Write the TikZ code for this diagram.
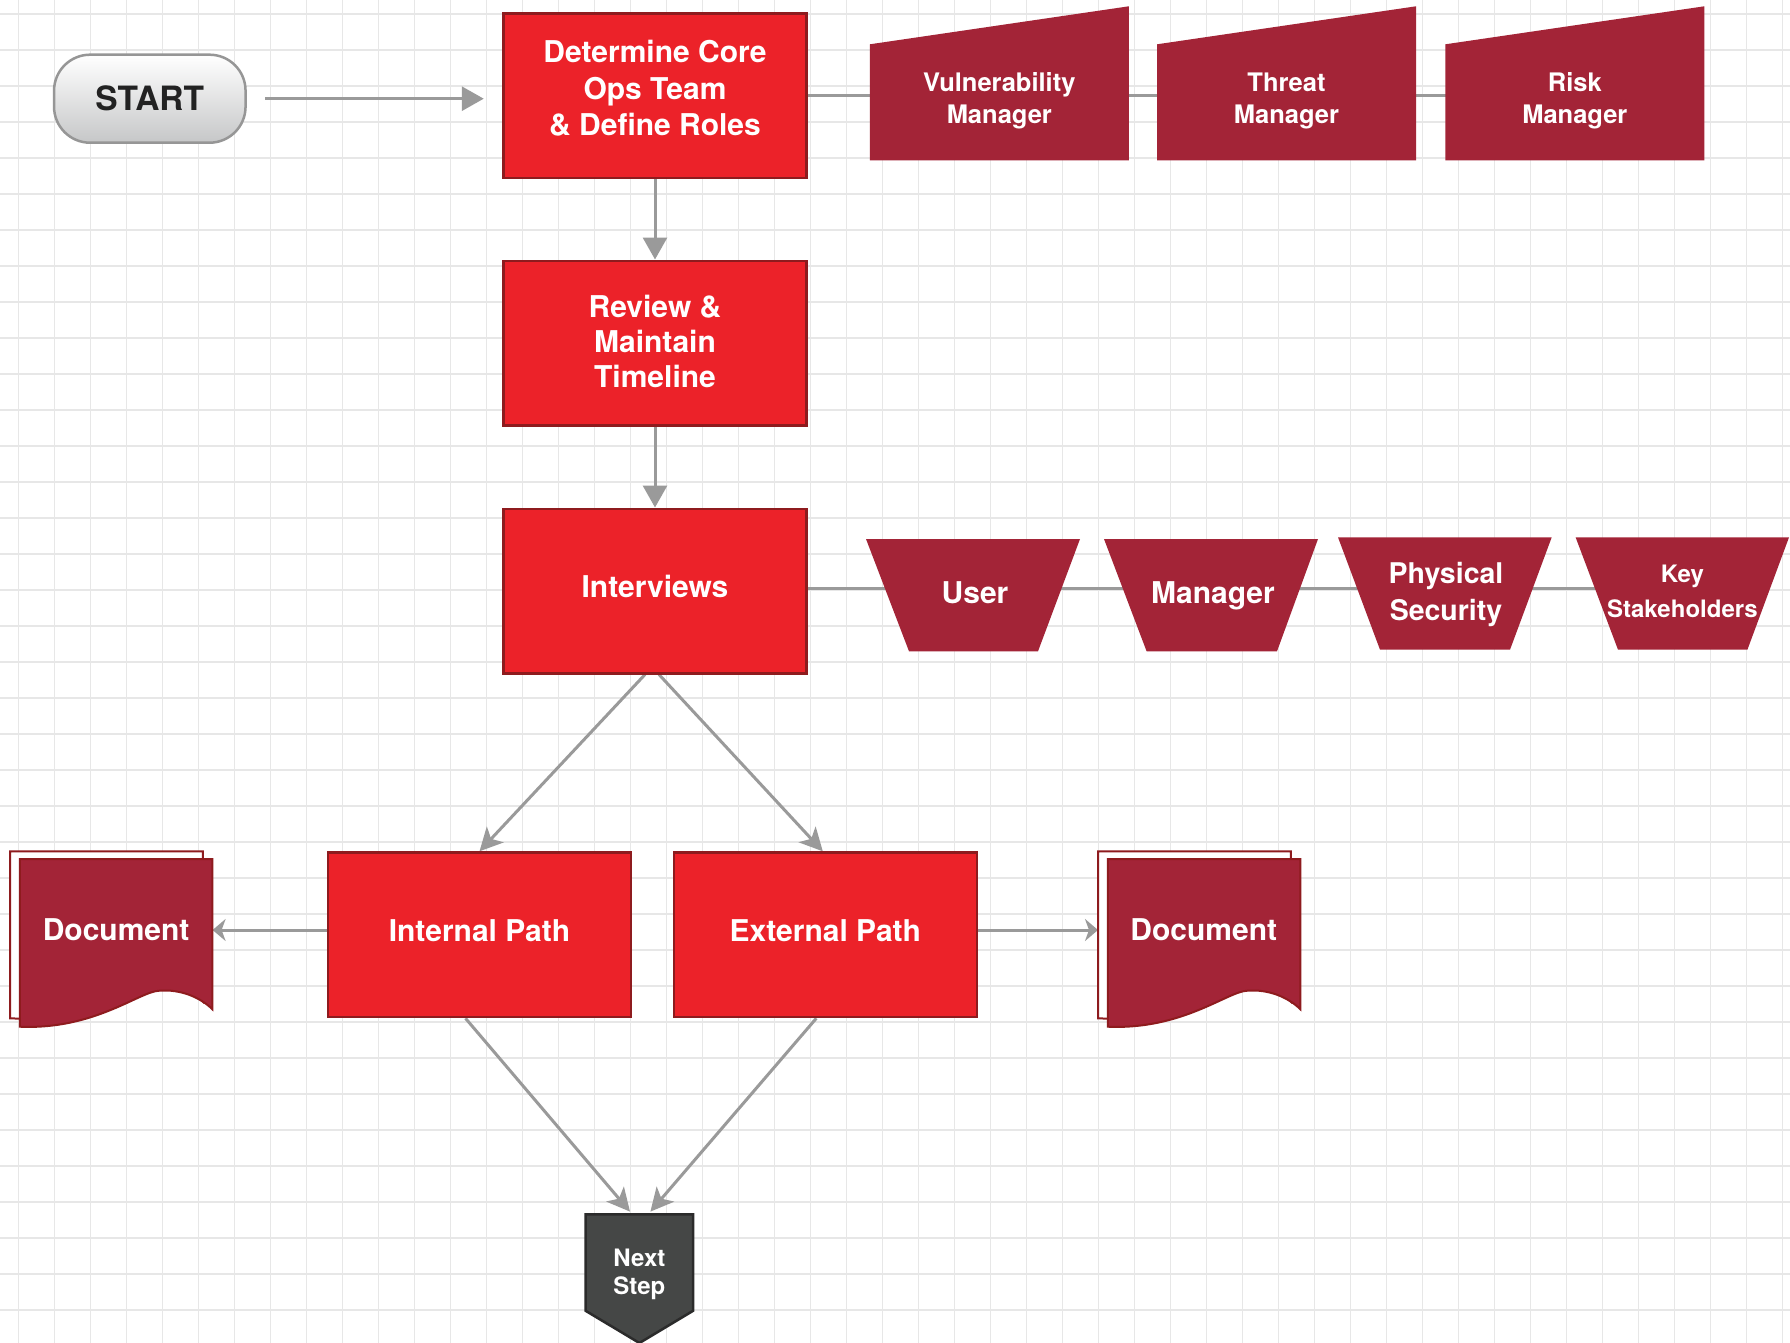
\documentclass[tikz,border=0pt]{standalone}
\usepackage{fontspec}
\setmainfont{TeX Gyre Heros}
\usetikzlibrary{arrows.meta,calc}
\definecolor{boxred}{RGB}{236,34,41}
\definecolor{boxline}{RGB}{142,27,30}
\definecolor{wine}{RGB}{163,36,55}
\definecolor{connc}{RGB}{154,154,154}
\definecolor{gridc}{RGB}{231,231,231}
\definecolor{slate}{RGB}{69,71,70}
\definecolor{slateline}{RGB}{43,43,43}
\definecolor{pillline}{RGB}{150,150,150}
\definecolor{pillbot}{RGB}{198,199,200}
\definecolor{pilltext}{RGB}{34,34,34}
\pgfdeclarelayer{gridlayer}
\pgfdeclarelayer{bg}
\pgfsetlayers{gridlayer,bg,main}
\begin{document}
\begin{tikzpicture}[x=1pt,y=-1pt,
  redbox/.style={draw=boxline, line width=2.5pt, fill=boxred, minimum width=303pt, minimum height=164.5pt, inner sep=0pt},
  wtext/.style={text=white, align=center, inner sep=0pt, text depth=0pt, font=\bfseries\fontsize{30}{36.5}\selectfont},
  smalltext/.style={wtext, font=\bfseries\fontsize{25.5}{31.7}\selectfont},
  wineshape/.style={fill=wine},
  docpage/.style={fill=wine, draw=boxline, line width=2pt},
  docback/.style={fill=white, draw=boxline, line width=2pt},
  cline/.style={draw=connc, line width=3pt},
  tri/.style={cline, -{Triangle[length=22pt,width=24pt]}},
  stl/.style={cline, -{Stealth[length=23pt,width=23pt,inset=6pt]}},
  stlsmall/.style={cline, -{Stealth[length=13pt,width=22pt,inset=4pt]}},
  gridline/.style={draw=gridc, line width=1.8pt}
]
\useasboundingbox (0,0) rectangle (1790,1343);
\begin{pgfonlayer}{gridlayer}
  \fill[white] (0,0) rectangle (1790,1343);
  \foreach \i in {0,...,49} \draw[gridline] (18.4+36*\i,0) -- (18.4+36*\i,1343);
  \foreach \j in {0,...,36} \draw[gridline] (0,14+36*\j) -- (1790,14+36*\j);
\end{pgfonlayer}

% START pill
\node[draw=pillline, line width=2.5pt, rounded corners=36pt, minimum width=191.5pt, minimum height=88pt,
      top color=white, bottom color=pillbot, text=pilltext, inner sep=0pt,
      font=\bfseries\fontsize{33.5}{36}\selectfont] (start) at (149.8,98.7) {START};

% main red boxes
\node[redbox] (det) at (655,95.8) {};
\node[wtext] (detT) at (655,88.3) {Determine Core\\Ops Team\\\& Define Roles};
\node[redbox] (rev) at (655,343) {};
\node[wtext, font=\bfseries\fontsize{30}{35.3}\selectfont] (revT) at (655,341.3) {Review \&\\Maintain\\Timeline};
\node[redbox] (intv) at (655,591) {};
\node[wtext] (intvT) at (655,586) {Interviews};
\node[redbox] (inpath) at (479.5,934.8) {};
\node[wtext] (inT) at (479.5,931) {Internal Path};
\node[redbox] (expath) at (825.3,934.8) {};
\node[wtext] (exT) at (825.3,931) {External Path};

% role shapes (manual input)
\fill[wineshape] (869.8,44.3) -- (1128.8,6.3) -- (1128.8,160.3) -- (869.8,160.3) -- cycle;
\fill[wineshape] (1157,44.3) -- (1416,6.3) -- (1416,160.3) -- (1157,160.3) -- cycle;
\fill[wineshape] (1445.3,44.3) -- (1704.3,6.3) -- (1704.3,160.3) -- (1445.3,160.3) -- cycle;
\node[smalltext] (vuln) at (999.3,98.2) {Vulnerability\\Manager};
\node[smalltext] (threat) at (1286.5,98.2) {Threat\\Manager};
\node[smalltext] (risk) at (1574.8,98.2) {Risk\\Manager};

% interview trapezoids
\fill[wineshape] (866,539) -- (1080,539) -- (1038,651.3) -- (909,651.3) -- cycle;
\fill[wineshape] (1104,539) -- (1318,539) -- (1277,651.3) -- (1146.6,651.3) -- cycle;
\fill[wineshape] (1338,537.3) -- (1551.7,537.3) -- (1510,649.7) -- (1380,649.7) -- cycle;
\fill[wineshape] (1575.6,537.3) -- (1789,537.3) -- (1747.4,649.7) -- (1618,649.7) -- cycle;
\node[wtext] (user) at (975,593) {User};
\node[wtext] (mgr) at (1213,593) {Manager};
\node[wtext, font=\bfseries\fontsize{28.5}{36.7}\selectfont] (phys) at (1446,591.7) {Physical\\Security};
\node[wtext, font=\bfseries\fontsize{24}{35}\selectfont] (key) at (1682.3,590.8) {Key\\Stakeholders};

% documents
\tikzset{docshape/.pic={
  \filldraw[docback] (10.2,851.3) -- (202.8,851.3) -- (202.8,1001.6)
     .. controls (190.4,989.3) and (170.4,981.3) .. (149.8,983)
     .. controls (130.4,983.3) and (85.4,1022.3) .. (10.2,1018.3) -- cycle;
  \filldraw[docpage] (19.8,859) -- (212.4,859) -- (212.4,1009.3)
     .. controls (200,997) and (180,989) .. (159.4,990.7)
     .. controls (140,991) and (95,1030) .. (19.8,1026.7) -- cycle;
}}
\pic at (0,0) {docshape};
\pic at (1088,0) {docshape};
\node[wtext, minimum width=192.6pt, minimum height=100pt] (docL) at (116.1,930) {Document};
\node[wtext, minimum width=194pt, minimum height=100pt] (docR) at (1203.8,930) {Document};

% next step
\filldraw[fill=slate, draw=slateline, line width=2.5pt] (585.5,1214.3) -- (693.2,1214.3) -- (693.2,1310.7) -- (639.4,1343) -- (585.5,1310.7) -- cycle;
\node[wtext, font=\bfseries\fontsize{24}{28.7}\selectfont, minimum width=107.7pt, minimum height=114.6pt] (next) at (639.4,1271.6) {Next\\Step};

% connectors
\begin{pgfonlayer}{bg}
  \draw[tri] ([xshift=18.5pt]start.east) -- ([xshift=-18.5pt]start.east -| det.west);
  \draw[tri] (det.south) -- (rev.north);
  \draw[tri] (rev.south) -- (intv.north);
  \draw[cline] (det.east) -- (det.east -| risk.center);
  \draw[cline] ([yshift=3pt]intv.east) -- ([yshift=3pt]intv.east -| key.center);
  \draw[stl] ([xshift=-10pt]intv.south) -- (inpath.north);
  \draw[stl] ([xshift=4pt]intv.south) -- ([xshift=-2.5pt]expath.north);
  \draw[stl] ([xshift=-14pt]inpath.south) -- ([xshift=-9.4pt,yshift=2.5pt]next.north);
  \draw[stl] ([xshift=-9pt]expath.south) -- ([xshift=11pt,yshift=2.5pt]next.north);
  \draw[stlsmall] (docL.east -| inpath.west) -- (docL.east);
  \draw[stlsmall] (docR.west -| expath.east) -- ([xshift=-8.6pt]docR.west);
\end{pgfonlayer}
\end{tikzpicture}
\end{document}
